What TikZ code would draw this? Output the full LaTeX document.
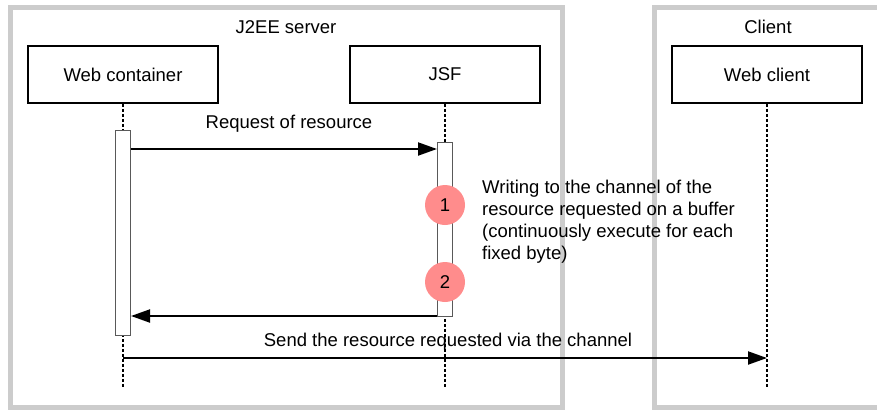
\documentclass[tikz,border=0pt]{standalone}
\usepackage{fontspec}
\setmainfont{Liberation Sans}
\usetikzlibrary{arrows.meta}
\begin{document}
\begin{tikzpicture}[x=1pt,y=-1pt,
  every node/.style={font=\fontsize{18.5}{22}\selectfont, inner sep=0pt},
  frame/.style={draw=black!20, line width=5pt},
  objbox/.style={draw=black, line width=1.5pt, fill=white, minimum width=190pt, minimum height=57pt},
  lifeline/.style={draw=black, line width=2pt, dash pattern=on 3pt off 2pt},
  actbar/.style={draw=black!65, line width=1pt, fill=white},
  msg/.style={draw=black, line width=2pt, -{Triangle[length=19pt,width=13pt]}},
  stepmark/.style={circle, fill=red!45!white, minimum size=40pt, inner sep=0pt}
]
\useasboundingbox (0,0) rectangle (877,410);
\clip (0,0) rectangle (877,410);
% frames
\draw[frame] (10,7.5) rectangle (562,407);
\draw[frame] (654,7.5) rectangle (890,407);
\node (srvlbl) at (286,27) {J2EE server};
\node (clilbl) at (768,27) {Client};
% objects
\node[objbox] (wc) at (123,74.5) {Web container};
\node[objbox] (jsf) at (445,74.5) {JSF};
\node[objbox] (wcl) at (767,74.5) {Web client};
% lifeline ends
\coordinate (wcend) at (123,388);
\coordinate (jsfend) at (445,388);
\coordinate (wclend) at (767,388);
\draw[lifeline] (wc.south) -- (wcend);
\draw[lifeline] (jsf.south) -- (jsfend);
\draw[lifeline] (wcl.south) -- (wclend);
% activation bars
\node[actbar, minimum width=15pt, minimum height=205pt, anchor=north] (wcbar) at (123,130) {};
\node[actbar, minimum width=15pt, minimum height=174pt, anchor=north] (jsfbar) at (445,142) {};
% messages
\coordinate (m1s) at (wcbar.east |- 0,149);
\coordinate (m1e) at (jsfbar.west |- 0,149);
\draw[msg] (m1s) -- (m1e);
\node (m1lbl) at (289,124) {Request of resource};
\coordinate (m2s) at (jsfbar.west |- 0,316);
\coordinate (m2e) at (wcbar.east |- 0,316);
\draw[msg] (m2s) -- (m2e);
\coordinate (m3s) at (123,358);
\coordinate (m3e) at (767,358);
\draw[msg] (m3s) -- (m3e);
\node (m3lbl) at (448,342) {Send the resource requested via the channel};
% step marks
\node[stepmark] (s1) at (445,205) {1};
\node[stepmark] (s2) at (445,282) {2};
\node[anchor=north west, align=left] (desc) at (482,180) {Writing to the channel of the\\resource requested on a buffer\\(continuously execute for each\\fixed byte)};
\end{tikzpicture}
\end{document}
